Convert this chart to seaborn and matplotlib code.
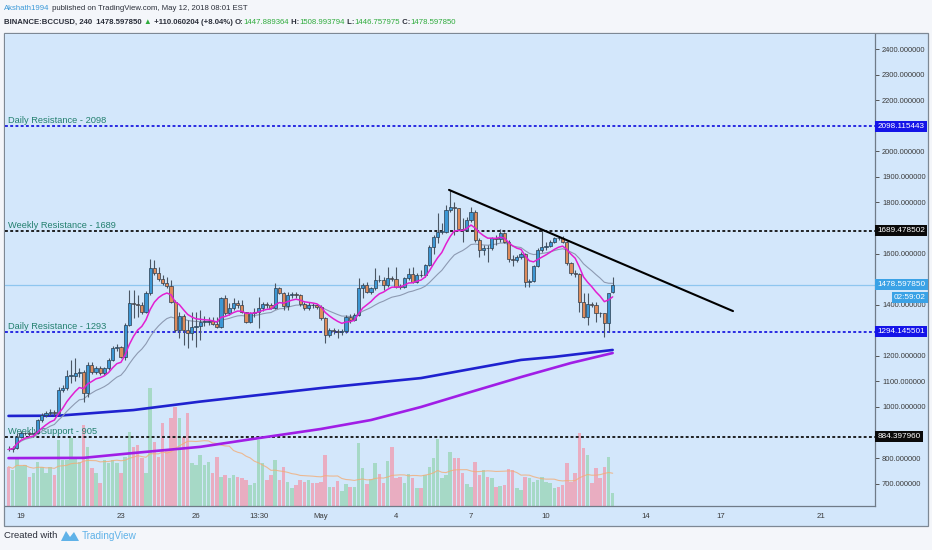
import numpy as np
import pandas as pd
import matplotlib
matplotlib.use("Agg")
import matplotlib.pyplot as plt
import matplotlib.transforms as mtrans
from matplotlib.patches import Rectangle, Polygon
from matplotlib import font_manager
import seaborn as sns

# ---------------- data ----------------
first_bar = "2018-04-18 12:00"   # 4h bars, BINANCE:BCCUSD
opens = [836, 834, 838, 884, 897, 898, 894, 898, 949, 969, 975, 982, 975, 1067, 1073, 1121, 1121, 1134, 1138, 1053,
         1164, 1138, 1151, 1132, 1151, 1184, 1229, 1233, 1197, 1321, 1405, 1403, 1399, 1373, 1444, 1542, 1523, 1499, 1484, 1473,
         1412, 1301, 1356, 1301, 1288, 1312, 1317, 1334, 1334, 1336, 1325, 1314, 1425, 1366, 1386, 1405, 1399, 1370, 1334, 1369,
         1370, 1386, 1403, 1399, 1388, 1464, 1445, 1395, 1438, 1440, 1436, 1403, 1386, 1399, 1398, 1390, 1347, 1282, 1301, 1299,
         1295, 1296, 1353, 1340, 1360, 1464, 1477, 1451, 1464, 1497, 1495, 1477, 1503, 1502, 1471, 1470, 1503, 1520, 1490, 1516,
         1515, 1555, 1627, 1666, 1684, 1686, 1770, 1783, 1777, 1695, 1692, 1731, 1764, 1653, 1614, 1621, 1620, 1660, 1656, 1682,
         1647, 1577, 1575, 1585, 1598, 1490, 1494, 1551, 1614, 1624, 1630, 1646, 1660, 1659, 1646, 1564, 1523, 1519, 1412, 1353,
         1403, 1400, 1369, 1366, 1327, 1447.889364]
highs = [846, 848, 900, 905, 903, 902, 904, 952, 975, 985, 992, 990, 1080, 1086, 1145, 1184, 1190, 1151, 1145, 1177,
         1175, 1160, 1160, 1158, 1190, 1240, 1245, 1240, 1330, 1458, 1458, 1438, 1410, 1452, 1577, 1575, 1549, 1516, 1510, 1497,
         1420, 1373, 1365, 1340, 1373, 1373, 1379, 1355, 1350, 1352, 1353, 1431, 1438, 1405, 1425, 1418, 1418, 1373, 1373, 1386,
         1431, 1412, 1412, 1408, 1486, 1470, 1450, 1451, 1451, 1451, 1442, 1410, 1412, 1408, 1404, 1397, 1352, 1308, 1310, 1305,
         1304, 1360, 1362, 1366, 1503, 1483, 1490, 1470, 1542, 1516, 1510, 1546, 1512, 1549, 1480, 1510, 1542, 1546, 1523, 1536,
         1560, 1634, 1672, 1757, 1718, 1790, 1849, 1803, 1777, 1738, 1744, 1783, 1770, 1660, 1634, 1634, 1666, 1673, 1695, 1686,
         1653, 1594, 1594, 1607, 1603, 1500, 1555, 1620, 1695, 1646, 1652, 1666, 1666, 1668, 1650, 1568, 1536, 1523, 1445, 1445,
         1412, 1412, 1373, 1366, 1447, 1508.993794]
lows = [826, 822, 834, 880, 890, 888, 890, 895, 942, 960, 968, 966, 970, 1060, 1068, 1093, 1100, 1118, 1021, 1040,
        1130, 1128, 1124, 1125, 1145, 1178, 1220, 1190, 1184, 1315, 1347, 1353, 1365, 1366, 1438, 1515, 1492, 1478, 1466, 1405,
        1294, 1269, 1242, 1229, 1262, 1236, 1262, 1318, 1320, 1320, 1308, 1308, 1360, 1360, 1380, 1386, 1366, 1327, 1327, 1353,
        1308, 1376, 1386, 1382, 1384, 1440, 1379, 1379, 1425, 1425, 1395, 1378, 1380, 1388, 1383, 1340, 1249, 1275, 1285, 1268,
        1280, 1288, 1330, 1335, 1355, 1425, 1445, 1440, 1458, 1490, 1458, 1470, 1494, 1464, 1462, 1464, 1498, 1485, 1485, 1510,
        1508, 1550, 1600, 1640, 1675, 1680, 1762, 1673, 1692, 1646, 1690, 1725, 1646, 1588, 1594, 1568, 1612, 1633, 1646, 1640,
        1568, 1551, 1568, 1578, 1470, 1470, 1490, 1548, 1607, 1614, 1625, 1640, 1653, 1640, 1555, 1516, 1510, 1373, 1347, 1320,
        1392, 1334, 1353, 1275, 1295, 1446.757975]
closes = [834, 838, 884, 897, 898, 894, 898, 949, 969, 975, 982, 975, 1067, 1073, 1121, 1121, 1134, 1138, 1053, 1164,
          1138, 1151, 1132, 1151, 1184, 1229, 1233, 1197, 1321, 1405, 1403, 1399, 1373, 1444, 1542, 1523, 1499, 1484, 1473, 1412,
          1301, 1356, 1301, 1288, 1312, 1317, 1334, 1334, 1336, 1325, 1314, 1425, 1366, 1386, 1405, 1399, 1370, 1334, 1369, 1370,
          1386, 1403, 1399, 1388, 1464, 1445, 1395, 1438, 1440, 1436, 1403, 1386, 1399, 1398, 1390, 1347, 1282, 1301, 1299, 1295,
          1296, 1353, 1340, 1360, 1464, 1477, 1451, 1464, 1497, 1495, 1477, 1503, 1502, 1471, 1470, 1503, 1520, 1490, 1516, 1515,
          1555, 1627, 1666, 1684, 1686, 1770, 1783, 1777, 1695, 1692, 1731, 1764, 1653, 1614, 1621, 1620, 1660, 1656, 1682, 1647,
          1577, 1575, 1585, 1598, 1490, 1494, 1551, 1614, 1624, 1630, 1646, 1660, 1659, 1646, 1564, 1523, 1519, 1412, 1353, 1403,
          1400, 1369, 1366, 1327, 1446, 1478.597850]
volumes = [118, 108, 140, 120, 123, 88, 98, 133, 118, 98, 118, 93, 198, 138, 138, 203, 148, 133, 243, 178,
           113, 98, 68, 138, 128, 138, 128, 98, 148, 223, 178, 183, 143, 98, 353, 193, 148, 248, 168, 263,
           298, 263, 208, 278, 128, 123, 153, 123, 133, 98, 148, 88, 93, 83, 93, 88, 83, 78, 63, 68,
           198, 128, 78, 93, 138, 78, 118, 73, 53, 63, 78, 73, 78, 68, 68, 73, 153, 58, 58, 76,
           46, 66, 58, 58, 190, 113, 66, 80, 130, 96, 68, 136, 176, 83, 86, 68, 96, 83, 53, 53,
           93, 118, 143, 200, 83, 93, 163, 143, 143, 100, 66, 58, 133, 93, 108, 88, 83, 58, 60, 63,
           110, 108, 53, 48, 88, 83, 73, 78, 88, 73, 68, 53, 58, 63, 130, 73, 98, 218, 173, 153,
           68, 113, 83, 118, 146, 40]

# long moving averages (bar index, value)
ma_blue_idx = [0, 12, 30, 46, 75, 99, 123, 131, 145]
ma_blue_val = [965, 966, 988, 1021, 1074, 1113, 1184, 1196, 1223]
ma_purple_idx = [0, 18, 30, 46, 62, 75, 87, 99, 111, 123, 135, 145]
ma_purple_val = [800, 801, 820, 844, 883, 914, 949, 1000, 1059, 1117, 1172, 1211]

# horizontal levels
level_values = [2098.115443, 1689.478502, 1294.145501, 884.397960]
level_names = ["Daily Resistance - 2098", "Weekly Resistance - 1689", "Daily Resistance - 1293", "Weekly Support - 905"]
level_colors = ["#1c1ce0", "#111111", "#1c1ce0", "#111111"]

# trend line (days since Apr 19, price)
trend_x = [17.12, 28.48]
trend_y = [1849, 1375]

last_price = 1478.597850
countdown = "02:59:02"

xtick_pos = [0, 4, 7, 9.5, 12, 15, 18, 21, 25, 28, 32]
xtick_lab = ["19", "23", "26", "13:30", "May", "4", "7", "10", "14", "17", "21"]
ytick_vals = list(range(700, 2401, 100))
ytick_hidden = [900, 1300, 1500, 1700, 2100]   # covered by the price tags in the original

# ---------------- style ----------------
sns.set_theme(style="white")
avail = {f.name for f in font_manager.fontManager.ttflist}
def pick(*names):
    for n in names:
        if n in avail:
            return n
    return "DejaVu Sans"
SANS = pick("Liberation Sans", "Arial", "DejaVu Sans")
NARROW = pick("Liberation Sans Narrow", "Liberation Sans", "DejaVu Sans")
plt.rcParams["font.family"] = [SANS, "DejaVu Sans"]
HEAD_SIZE = 6.6 if NARROW == "Liberation Sans Narrow" else 5.6

BG = "#d3e7fb"
FIGBG = "#f4f6fa"
UP = "#3c97d4"
DOWN = "#de8b5b"
VUP = "#a6d9c6"
VDOWN = "#e9adc1"

W, H = 932, 550
fig = plt.figure(figsize=(W / 100, H / 100), dpi=100, facecolor=FIGBG)
def fx(px): return px / W
def fy(py): return 1 - py / H

fig.add_artist(Rectangle((fx(4), fy(526)), fx(928) - fx(4), fy(33) - fy(526), transform=fig.transFigure,
                         facecolor=BG, edgecolor="#7d8894", lw=0.9, zorder=0))

pos = [fx(5), fy(506), fx(875) - fx(5), fy(34) - fy(506)]
vax = fig.add_axes(pos)
ax = fig.add_axes(pos, sharex=vax)
ax.set_zorder(vax.get_zorder() + 1)
ax.patch.set_alpha(0)
vax.set_facecolor(BG)

# x positions (days since Apr 19 00:00)
times = pd.date_range(first_bar, periods=len(closes), freq="4h")
x = ((times - pd.Timestamp("2018-04-19")) / pd.Timedelta("1D")).values.astype(float)
o = np.array(opens, float); c = np.array(closes, float)
hi = np.array(highs, float); lo = np.array(lows, float)
up = c >= o

# volume
vol = np.array(volumes, float)
vax.bar(x, vol, width=0.145, color=np.where(up, VUP, VDOWN), linewidth=0, zorder=1)
vma = pd.Series(vol).rolling(20, min_periods=1).mean()
sns.lineplot(x=x, y=vma.values, ax=vax, color="#f2ad78", lw=0.8, alpha=0.8, sort=False, errorbar=None)
vax.set_ylim(0, 472 * 3)
vax.set_yticks([])
for s in vax.spines.values():
    s.set_visible(False)

# level lines and labels
ax.axhline(last_price, color="#8ec6ef", lw=0.9, zorder=1)
for v, name, col in zip(level_values, level_names, level_colors):
    ax.axhline(v, color=col, lw=1.3, ls=(0, (1.6, 1.3)), zorder=2)
    ax.annotate(name, xy=(-0.52, v), xytext=(0, 0.6), textcoords="offset points",
                ha="left", va="bottom", fontsize=6.7, color="#23806f", zorder=2)

# moving averages
sns.lineplot(x=x[ma_blue_idx], y=ma_blue_val, ax=ax, color="#1f22cf", lw=1.9, sort=False, errorbar=None, zorder=3)
sns.lineplot(x=x[ma_purple_idx], y=ma_purple_val, ax=ax, color="#a01ee6", lw=1.9, sort=False, errorbar=None, zorder=3)
ema_fast = pd.Series(c).ewm(span=9).mean()
ema_slow = pd.Series(c).ewm(span=21).mean()
sns.lineplot(x=x, y=ema_slow.values, ax=ax, color="#8d9ab2", lw=0.8, sort=False, errorbar=None, zorder=3)

# candles
ax.vlines(x, lo, hi, color="#4a5664", lw=0.8, zorder=4)
body_lo = np.minimum(o, c)
body_h = np.maximum(np.abs(c - o), 2.5)
ax.bar(x, body_h, bottom=body_lo, width=0.13, color=np.where(up, UP, DOWN),
       edgecolor="#2c3c4c", linewidth=0.5, zorder=5)
sns.lineplot(x=x, y=ema_fast.values, ax=ax, color="#e21fd2", lw=1.1, sort=False, errorbar=None, zorder=6)

# trend line
ax.plot(trend_x, trend_y, color="black", lw=1.5, zorder=7, solid_capstyle="round")

# axes
ax.set_xlim(-0.64, 34.16)
ax.set_ylim(612.7, 2458.7)
ax.yaxis.tick_right()
ax.set_yticks(ytick_vals)
ax.set_yticklabels(["" if t in ytick_hidden else f"{t:.6f}" for t in ytick_vals])
ax.set_xticks(xtick_pos)
ax.set_xticklabels(xtick_lab)
ax.tick_params(axis="y", length=3, width=0.7, color="#555", labelsize=5.4, pad=2, labelcolor="#3a3a3a")
ax.tick_params(axis="x", length=3, width=0.7, color="#555", labelsize=5.6, pad=2, labelcolor="#3a3a3a")
vax.tick_params(axis="x", length=0, labelbottom=False)
ax.set_xlabel(""); ax.set_ylabel(""); vax.set_xlabel(""); vax.set_ylabel("")
for side in ["left", "top"]:
    ax.spines[side].set_visible(False)
for side in ["right", "bottom"]:
    ax.spines[side].set_color("#6f7b88")
    ax.spines[side].set_linewidth(0.9)
    ax.spines[side].set_visible(True)

# right price tags
blend = mtrans.blended_transform_factory(ax.transAxes, ax.transData)
tag_x = (877.5 - 5) / 870
for v, col in zip(level_values, ["#1414e8", "#0a0a0a", "#1414e8", "#0a0a0a"]):
    ax.text(tag_x, v, f"{v:.6f}", transform=blend, ha="left", va="center", fontsize=5.9, color="white",
            bbox=dict(boxstyle="square,pad=0.25", fc=col, ec="none"), zorder=10, clip_on=False)
ax.text(tag_x, last_price, f"{last_price:.6f}", transform=blend, ha="left", va="center", fontsize=5.9, color="white",
        bbox=dict(boxstyle="square,pad=0.25", fc="#3aa2e6", ec="none"), zorder=10, clip_on=False)
ax.annotate(countdown, xy=((926 - 5) / 870, last_price), xycoords=blend, xytext=(0, -9.5), textcoords="offset points",
            ha="right", va="center", fontsize=5.9, color="white",
            bbox=dict(boxstyle="square,pad=0.25", fc="#3aa2e6", ec="none"), zorder=10, annotation_clip=False)

# header
renderer = fig.canvas.get_renderer()
def seq_text(x_px, y_px, parts, size):
    xp = x_px
    for s, col, wt in parts:
        t = fig.text(fx(xp), fy(y_px), s, color=col, fontweight=wt, va="center", ha="left",
                     fontsize=size, family=[NARROW, "DejaVu Sans"])
        xp += t.get_window_extent(renderer=renderer).width

DARK = "#2a2e39"
GREEN = "#2eab3c"
seq_text(4, 9, [("Akshath1994", "#3b99d8", "normal"),
                (" published on TradingView.com, May 12, 2018 08:01 EST", DARK, "normal")], HEAD_SIZE)
seq_text(4, 22, [("BINANCE:BCCUSD, 240", DARK, "bold"),
                 ("  1478.597850 ", DARK, "bold"),
                 ("\u25b2", GREEN, "normal"),
                 (" +110.060204 (+8.04%) ", DARK, "bold"),
                 ("O:", DARK, "bold"), ("1447.889364", GREEN, "normal"),
                 (" H:", DARK, "bold"), ("1508.993794", GREEN, "normal"),
                 (" L:", DARK, "bold"), ("1446.757975", GREEN, "normal"),
                 (" C:", DARK, "bold"), ("1478.597850", GREEN, "normal")], HEAD_SIZE)

# footer
fig.text(fx(4), fy(536), "Created with", color="#2a2e39", fontsize=6.8, va="center", ha="left",
         family=[NARROW, "DejaVu Sans"])
logo = Polygon([(fx(61), fy(541)), (fx(66), fy(531)), (fx(70), fy(537)), (fx(74), fy(532)), (fx(79), fy(541))],
               closed=True, transform=fig.transFigure, fc="#5fb2e8", ec="none")
fig.add_artist(logo)
fig.text(fx(82), fy(536), "TradingView", color="#5fb2e8", fontsize=7.2, va="center", ha="left",
         family=[NARROW, "DejaVu Sans"])

fig.savefig("out.png", dpi=100, facecolor=FIGBG)
